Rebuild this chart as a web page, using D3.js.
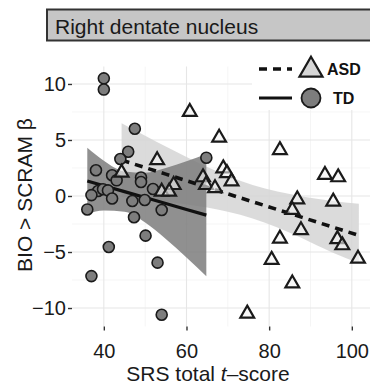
<!DOCTYPE html>
<html>
<head>
<meta charset="utf-8">
<script src="https://cdn.jsdelivr.net/npm/d3@7"></script>
<style>
  body { margin: 0; background: #fff; }
  svg { display: block; font-family: "Liberation Sans", Arial, sans-serif; }
</style>
</head>
<body>
<svg id="chart" width="370" height="386"></svg>
<script>
// SRS total t-score (x) and BIO > SCRAM beta (y)
const tdX = [40, 40, 47.5, 45.9, 44.0, 38.1, 42.0, 43.1, 49.0, 49.0, 38.6, 39.8, 41.0,
  37.0, 42.0, 46.9, 49.9, 51.9, 54.0, 36.0, 47.3, 50.1, 41.2, 53.0, 37.0, 54.0, 64.8];
const tdY = [10.5, 9.5, 6.0, 3.95, 3.3, 2.3, 1.85, 1.4, 1.65, 1.25, 0.45, 0.6, 0.5,
  0.08, -0.22, -0.45, -0.36, 0.62, -1.25, -1.2, -1.9, -3.54, -4.55, -5.95, -7.15, -10.6, 3.42];

const asdX = [60.8, 67.9, 82.6, 68.9, 69.8, 70.9, 64.0, 64.7, 66.9, 93.5, 96.7, 86.8,
  95.5, 85.6, 87.7, 82.6, 96.5, 97.7, 80.6, 101.5, 85.6, 74.7, 52.9, 44.3, 56.9, 54.0, 55.8];
const asdY = [7.5, 5.2, 4.1, 2.47, 2.03, 1.3, 1.67, 0.98, 0.7, 1.88, 1.67, -0.3,
  -0.5, -1.25, -3.05, -3.8, -3.85, -4.4, -5.7, -5.6, -7.8, -10.5, 3.2, 2.08, 0.98, 0.39, 0.39];

// fitted lines and 95% bands, read at a few x positions
const tdFitX = [36.0, 40, 45, 50, 55, 60, 64.8];
const tdFit = [1.34, 0.92, 0.39, -0.14, -0.67, -1.2, -1.71];
const tdLo = [-1.6, -1.3, -1.41, -2.36, -3.83, -5.49, -7.17];
const tdHi = [4.3, 3.14, 2.19, 2.08, 2.49, 3.09, 3.75];

const asdFitX = [44.3, 50, 55, 60, 65, 70, 76, 82, 88, 95, 101.7];
const asdFit = [3.2, 2.53, 1.95, 1.36, 0.78, 0.19, -0.51, -1.21, -1.91, -2.73, -3.52];
const asdLo = [-0.1, -0.31, -0.51, -0.75, -1.03, -1.41, -2.01, -2.81, -3.78, -5.0, -6.0];
const asdHi = [6.5, 5.37, 4.41, 3.47, 2.59, 1.79, 0.99, 0.39, -0.04, -0.42, -0.7];

const xTicks = [40, 60, 80, 100];
const xMinor = [50, 70, 90];
const yTicks = [-10, -5, 0, 5, 10];
const yMinor = [-7.5, -2.5, 2.5, 7.5];

const svg = d3.select('#chart');
const panel = {left: 72, right: 370, top: 66.6, bottom: 326.5};

const x = d3.scaleLinear().domain([32.3, 104.4]).range([panel.left, panel.right]);
const y = d3.scaleLinear().domain([-11.65, 11.55]).range([panel.bottom, panel.top]);

svg.append('rect').attr('width', 370).attr('height', 386).attr('fill', '#fff');

// grid
const grid = svg.append('g');
grid.selectAll('.vmin').data(xMinor).enter().append('line')
  .attr('x1', d => x(d)).attr('x2', d => x(d))
  .attr('y1', panel.top).attr('y2', panel.bottom)
  .attr('stroke', '#f3f3f3').attr('stroke-width', 0.8);
grid.selectAll('.hmin').data(yMinor).enter().append('line')
  .attr('x1', panel.left).attr('x2', panel.right)
  .attr('y1', d => y(d)).attr('y2', d => y(d))
  .attr('stroke', '#f3f3f3').attr('stroke-width', 0.8);
grid.selectAll('.vmaj').data(xTicks).enter().append('line')
  .attr('x1', d => x(d)).attr('x2', d => x(d))
  .attr('y1', panel.top).attr('y2', panel.bottom)
  .attr('stroke', '#e6e6e6').attr('stroke-width', 1.1);
grid.selectAll('.hmaj').data(yTicks).enter().append('line')
  .attr('x1', panel.left).attr('x2', panel.right)
  .attr('y1', d => y(d)).attr('y2', d => y(d))
  .attr('stroke', '#e6e6e6').attr('stroke-width', 1.1);

// bands
const area = d3.area()
  .x(d => x(d.x)).y0(d => y(d.lo)).y1(d => y(d.hi))
  .curve(d3.curveMonotoneX);
const asdBand = asdFitX.map((v, i) => ({x: v, lo: asdLo[i], hi: asdHi[i]}));
const tdBand = tdFitX.map((v, i) => ({x: v, lo: tdLo[i], hi: tdHi[i]}));

svg.append('path').datum(asdBand).attr('d', area)
  .attr('fill', '#d5d5d5').attr('fill-opacity', 0.85);
svg.append('path').datum(tdBand).attr('d', area)
  .attr('fill', '#7c7c7c').attr('fill-opacity', 0.85);

// fit lines
const line = d3.line().x(d => x(d[0])).y(d => y(d[1]));
svg.append('path').datum(asdFitX.map((v, i) => [v, asdFit[i]])).attr('d', line)
  .attr('fill', 'none').attr('stroke', '#111').attr('stroke-width', 3.6)
  .attr('stroke-dasharray', '8,6');
svg.append('path').datum(tdFitX.map((v, i) => [v, tdFit[i]])).attr('d', line)
  .attr('fill', 'none').attr('stroke', '#111').attr('stroke-width', 3.2);

// points
svg.selectAll('.td').data(tdX).enter().append('circle')
  .classed('td', true)
  .attr('cx', d => x(d)).attr('cy', (d, i) => y(tdY[i]))
  .attr('r', 5.5)
  .attr('fill', '#7d7d7d').attr('stroke', '#1a1a1a').attr('stroke-width', 1.6);

const tri = d3.symbol().type(d3.symbolTriangle).size(82);
svg.selectAll('.asd').data(asdX).enter().append('path')
  .classed('asd', true)
  .attr('d', tri)
  .attr('transform', (d, i) => `translate(${x(d)},${y(asdY[i])})`)
  .attr('fill', '#f4f4f4').attr('fill-opacity', 0.6)
  .attr('stroke', '#1a1a1a').attr('stroke-width', 2.2).attr('stroke-linejoin', 'miter');

// axes
const fmt = d => d < 0 ? '\u2212' + Math.abs(d) : String(d);
const yAxis = svg.append('g')
  .attr('transform', `translate(${panel.left},0)`)
  .call(d3.axisLeft(y).tickValues(yTicks).tickSize(4).tickPadding(2).tickFormat(fmt));
const xAxis = svg.append('g')
  .attr('transform', `translate(0,${panel.bottom})`)
  .call(d3.axisBottom(x).tickValues(xTicks).tickSize(4).tickPadding(13));
[xAxis, yAxis].forEach(a => {
  a.select('.domain').remove();
  a.selectAll('line').attr('stroke', '#333').attr('stroke-width', 1.4);
  a.selectAll('text').attr('fill', '#1a1a1a')
    .style('font-size', '20px').style('font-family', '"Liberation Sans", Arial, sans-serif');
});

// axis titles
const xTitle = svg.append('text')
  .attr('x', 208).attr('y', 381).attr('text-anchor', 'middle')
  .attr('fill', '#1a1a1a').style('font-size', '21px');
xTitle.append('tspan').text('SRS total ');
xTitle.append('tspan').style('font-style', 'italic').text('t');
xTitle.append('tspan').text('\u2013score');

svg.append('text')
  .attr('transform', 'translate(32,195) rotate(-90)')
  .attr('text-anchor', 'middle').attr('fill', '#1a1a1a')
  .style('font-size', '21px')
  .text('BIO > SCRAM \u03b2');

// strip
svg.append('rect')
  .attr('x', 47).attr('y', 9.5).attr('width', 340).attr('height', 31)
  .attr('fill', '#c6c6c6').attr('stroke', '#333').attr('stroke-width', 2);
svg.append('text')
  .attr('x', 55).attr('y', 34).attr('fill', '#1a1a1a')
  .style('font-size', '21px')
  .text('Right dentate nucleus');

// legend
const legend = svg.append('g');
legend.append('rect')
  .attr('x', 252).attr('y', 54).attr('width', 118).attr('height', 56)
  .attr('fill', '#fff');
legend.append('line')
  .attr('x1', 259).attr('x2', 292).attr('y1', 69).attr('y2', 69)
  .attr('stroke', '#111').attr('stroke-width', 3.6).attr('stroke-dasharray', '8,6');
legend.append('path')
  .attr('d', d3.symbol().type(d3.symbolTriangle).size(230))
  .attr('transform', 'translate(311,70)')
  .attr('fill', '#d6d6d6').attr('stroke', '#1a1a1a').attr('stroke-width', 2.2);
legend.append('text')
  .attr('x', 327).attr('y', 75).attr('fill', '#111')
  .style('font-size', '16px').style('font-weight', 'bold')
  .text('ASD');
legend.append('line')
  .attr('x1', 259).attr('x2', 292).attr('y1', 98).attr('y2', 98)
  .attr('stroke', '#111').attr('stroke-width', 3.2);
legend.append('circle')
  .attr('cx', 311).attr('cy', 98).attr('r', 9.5)
  .attr('fill', '#7d7d7d').attr('stroke', '#1a1a1a').attr('stroke-width', 1.8);
legend.append('text')
  .attr('x', 333).attr('y', 104).attr('fill', '#111')
  .style('font-size', '16px').style('font-weight', 'bold')
  .text('TD');
</script>
</body>
</html>
